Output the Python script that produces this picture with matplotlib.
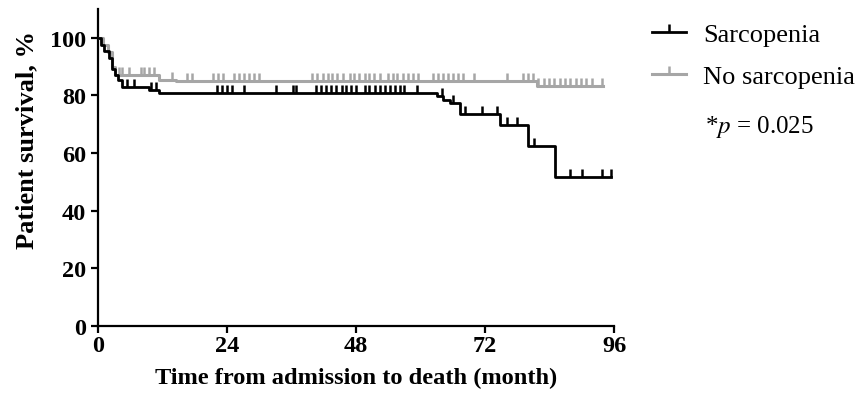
import numpy as np
import matplotlib
matplotlib.use("Agg")
import matplotlib.pyplot as plt
from matplotlib.lines import Line2D

plt.rcParams['font.family'] = ['Liberation Serif', 'DejaVu Serif']
plt.rcParams['mathtext.fontset'] = 'stix'

# Kaplan-Meier steps (month, survival %)
sarc_times = [0, 0.6, 1.2, 2.0, 2.6, 3.2, 3.8, 4.5, 9.5, 11.4, 63.0, 64.2, 65.5, 67.3, 74.7, 80.0, 85.0, 95.5]
sarc_surv = [100, 97.5, 95.5, 93, 89, 87, 85.5, 82.9, 81.7, 81.0, 79.8, 78.5, 77.3, 73.6, 69.8, 62.3, 51.8, 51.8]
sarc_censor = [5.4, 6.7, 9.9, 10.8, 22.2, 23.1, 24.0, 25.0, 27.2, 33.2, 36.3, 36.9,
               40.6, 41.5, 42.5, 43.4, 44.3, 45.3, 46.2, 47.1, 48.0,
               49.6, 50.5, 51.5, 52.4, 53.3, 54.3, 55.2, 56.1, 57.0, 59.4,
               63.9, 66.0, 68.2, 71.4, 74.2, 76.0, 78.0, 81.0, 87.8, 90.0, 93.8, 95.5]

nosarc_times = [0, 1.0, 1.8, 2.6, 3.2, 11.4, 14.5, 81.6, 94.0]
nosarc_surv = [100, 97.5, 95, 90, 87.1, 85.5, 85.0, 83.4, 83.4]
nosarc_censor = [3.9, 4.5, 5.8, 8.0, 8.6, 9.5, 10.4, 13.8, 16.6, 17.5, 21.4, 22.4, 23.3,
                 25.3, 26.3, 27.2, 28.1, 29.1, 30.0,
                 39.9, 40.8, 41.8, 42.7, 43.6, 44.5, 45.5, 46.8, 47.7, 48.6, 49.6, 50.5, 51.4, 52.4,
                 53.9, 54.8, 55.7, 56.7, 57.6, 58.5, 59.5, 62.3, 63.2, 64.1, 65.1, 66.0, 66.9, 67.8,
                 70.0, 76.0, 79.0, 80.0, 80.9, 81.8, 82.9, 83.9, 84.8, 85.9, 86.8, 87.8, 88.9,
                 89.8, 90.8, 91.9, 93.8]

xticks = [0, 24, 48, 72, 96]
yticks = [0, 20, 40, 60, 80, 100]

fig = plt.figure(figsize=(8.59, 4.10), dpi=100)
ax = fig.add_axes([0.114, 0.202, 0.601, 0.774])

def level_at(times, surv, t):
    idx = np.searchsorted(times, t, side='right') - 1
    return np.array(surv)[idx]

gray = '#a6a6a6'
for times, surv, cens, col, lw in [(nosarc_times, nosarc_surv, nosarc_censor, gray, 2.2),
                                   (sarc_times, sarc_surv, sarc_censor, 'black', 2.0)]:
    ax.step(times, surv, where='post', color=col, lw=lw, zorder=3)
    ax.plot(cens, level_at(times, surv, cens), linestyle='none', marker=2,
            markersize=5.5, markeredgewidth=1.8, color=col, zorder=3)

ax.set_xlim(0, 96)
ax.set_ylim(0, 110)
ax.set_xticks(xticks)
ax.set_yticks(yticks)
for s in ['top', 'right']:
    ax.spines[s].set_visible(False)
for s in ['left', 'bottom']:
    ax.spines[s].set_linewidth(1.6)
ax.tick_params(width=1.6, length=5, labelsize=17.5)
ax.tick_params(axis='x', pad=1)
for lab in ax.get_xticklabels() + ax.get_yticklabels():
    lab.set_fontweight('bold')
ax.set_xlabel('Time from admission to death (month)', fontsize=17.6, fontweight='bold', labelpad=8)
ax.set_ylabel('Patient survival, %', fontsize=19, fontweight='bold')
ax.yaxis.set_label_coords(-0.115, 0.59)

handles = [Line2D([], [], color='black', lw=2.0, marker=2, markersize=5.5, markeredgewidth=1.8),
           Line2D([], [], color=gray, lw=2.2, marker=2, markersize=5.5, markeredgewidth=1.8)]
fig.legend(handles, ['Sarcopenia', 'No sarcopenia'], loc='upper left',
           bbox_to_anchor=(0.731, 1.0), frameon=False, fontsize=19,
           handlelength=1.3, handletextpad=0.65, labelspacing=0.7)
fig.text(0.821, 0.69, r'*$p$ = 0.025', fontsize=18, ha='left', va='center')

fig.savefig('out.png', dpi=100)
